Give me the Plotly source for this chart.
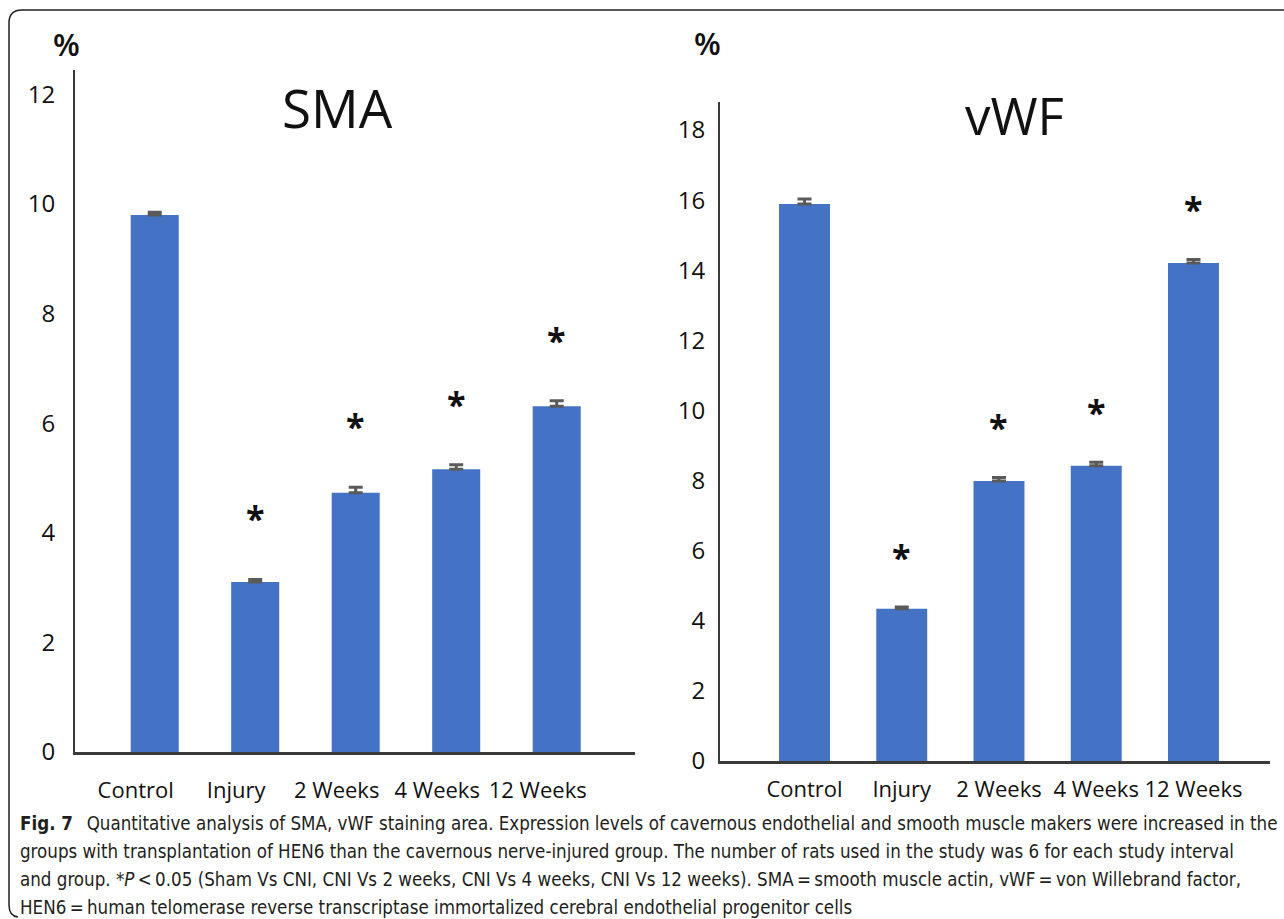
import plotly.graph_objects as go

W, H = 1284, 919

# ---- data -------------------------------------------------------------
groups = ["Control", "Injury", "2 Weeks", "4 Weeks", "12 Weeks"]

sma_mean = [9.80, 3.10, 4.73, 5.16, 6.31]
sma_err = [0.05, 0.05, 0.10, 0.08, 0.10]
sma_sig = [False, True, True, True, True]
sma_ticks = [0, 2, 4, 6, 8, 10, 12]

vwf_mean = [15.89, 4.34, 7.99, 8.42, 14.21]
vwf_err = [0.14, 0.05, 0.10, 0.10, 0.10]
vwf_sig = [False, True, True, True, True]
vwf_ticks = [0, 2, 4, 6, 8, 10, 12, 14, 16, 18]

caption_lines = [
    "<b>Fig. 7</b>\u2002 Quantitative analysis of SMA, vWF staining area. Expression levels of cavernous endothelial "
    "and smooth muscle makers were increased in the",
    "groups with transplantation of HEN6 than the cavernous nerve-injured group. The number of rats used in the "
    "study was 6 for each study interval",
    "and group. *<i>P</i>\u2009<\u20090.05 (Sham Vs CNI, CNI Vs 2 weeks, CNI Vs 4 weeks, CNI Vs 12 weeks). "
    "SMA\u2009=\u2009smooth muscle actin, vWF\u2009=\u2009von Willebrand factor,",
    "HEN6\u2009=\u2009human telomerase reverse transcriptase immortalized cerebral endothelial progenitor cells",
]

# ---- styling ----------------------------------------------------------
BAR = "#4472C4"
ERR = "#5a5a5a"
AXIS = "#3a3a3a"
TXT = "#111111"
FONT = "Open Sans"
CAP_FONT = "DejaVu Sans Condensed, Liberation Sans"


def fx(p):
    return p / W


def fy(p):
    return 1 - p / H


fig = go.Figure()

panels = [
    dict(mean=sma_mean, err=sma_err, sig=sma_sig, ticks=sma_ticks, xa="x", ya="y",
         barw=0.478, star_shift=61),
    dict(mean=vwf_mean, err=vwf_err, sig=vwf_sig, ticks=vwf_ticks, xa="x2", ya="y2",
         barw=0.524, star_shift=50),
]

for p in panels:
    fig.add_trace(go.Bar(
        x=groups, y=p["mean"], width=p["barw"],
        marker=dict(color=BAR, line=dict(width=0)),
        error_y=dict(type="data", symmetric=False, array=p["err"],
                     arrayminus=[0] * len(p["err"]),
                     color=ERR, thickness=3, width=7),
        xaxis=p["xa"], yaxis=p["ya"], showlegend=False,
        hoverinfo="x+y",
    ))

common_x = dict(type="category", showline=True, linecolor=AXIS, linewidth=2.5,
                ticks="", showgrid=False, zeroline=False, automargin=False,
                tickfont=dict(family=FONT, size=22, color=TXT))
common_y = dict(showline=True, linecolor=AXIS, linewidth=2, ticks="",
                showgrid=False, zeroline=False, automargin=False,
                tickfont=dict(family=FONT, size=24, color=TXT))

fig.update_layout(
    width=W, height=H,
    margin=dict(l=0, r=0, t=0, b=0, autoexpand=False),
    paper_bgcolor="white", plot_bgcolor="white",
    showlegend=False,
    xaxis=dict(common_x, domain=[fx(75), fx(635)], range=[-0.793, 4.779],
               anchor="y", ticklabelshift=-19, ticklabelstandoff=17),
    yaxis=dict(common_y, domain=[fy(752), fy(70)], range=[0, 12.445],
               tickvals=sma_ticks, anchor="x", ticklabelstandoff=13),
    xaxis2=dict(common_x, domain=[fx(720), fx(1270)], range=[-0.869, 4.787],
                anchor="y2", ticklabelstandoff=7),
    yaxis2=dict(common_y, domain=[fy(761), fy(102)], range=[0, 18.8],
                tickvals=vwf_ticks, anchor="x2", ticklabelstandoff=8),
)

ann = []


def label(text, x, y, size, weight="normal"):
    return dict(text=text, x=fx(x), y=fy(y), xref="paper", yref="paper",
                xanchor="center", yanchor="middle", showarrow=False,
                font=dict(family=FONT, size=size, color=TXT, weight=weight))


# panel titles and unit labels
ann.append(label("SMA", 337, 108, 53))
ann.append(label("vWF", 1014, 115, 51))
ann.append(label("%", 66, 44, 31, 600))
ann.append(label("%", 708, 43, 31, 600))

# significance asterisks above the bars
for p in panels:
    for g, m, e, s in zip(groups, p["mean"], p["err"], p["sig"]):
        if s:
            ann.append(dict(text="<b>*</b>", x=g, y=m + e, xref=p["xa"], yref=p["ya"],
                            showarrow=False, xanchor="center", yanchor="middle",
                            yshift=p["star_shift"],
                            font=dict(family=FONT, size=34, color=TXT)))

# figure caption
for i, line in enumerate(caption_lines):
    ann.append(dict(text=line, x=fx(18), y=fy(823 + 28.3 * i), xref="paper", yref="paper",
                    xanchor="left", yanchor="middle", showarrow=False, align="left",
                    font=dict(family=CAP_FONT, size=18.6, color="#231f20")))

fig.update_layout(annotations=ann)

# rounded frame around the figure (top and left edges)
r = 13
frame = (f"M {fx(W)} {fy(10)} L {fx(9 + r)} {fy(10)} Q {fx(9)} {fy(10)} {fx(9)} {fy(10 + r)} "
         f"L {fx(9)} {fy(905)} Q {fx(9)} {fy(916)} {fx(18)} {fy(917)}")
fig.add_shape(type="path", path=frame, xref="paper", yref="paper",
              line=dict(color="#231f20", width=1.5))

fig.write_html("out.html")
